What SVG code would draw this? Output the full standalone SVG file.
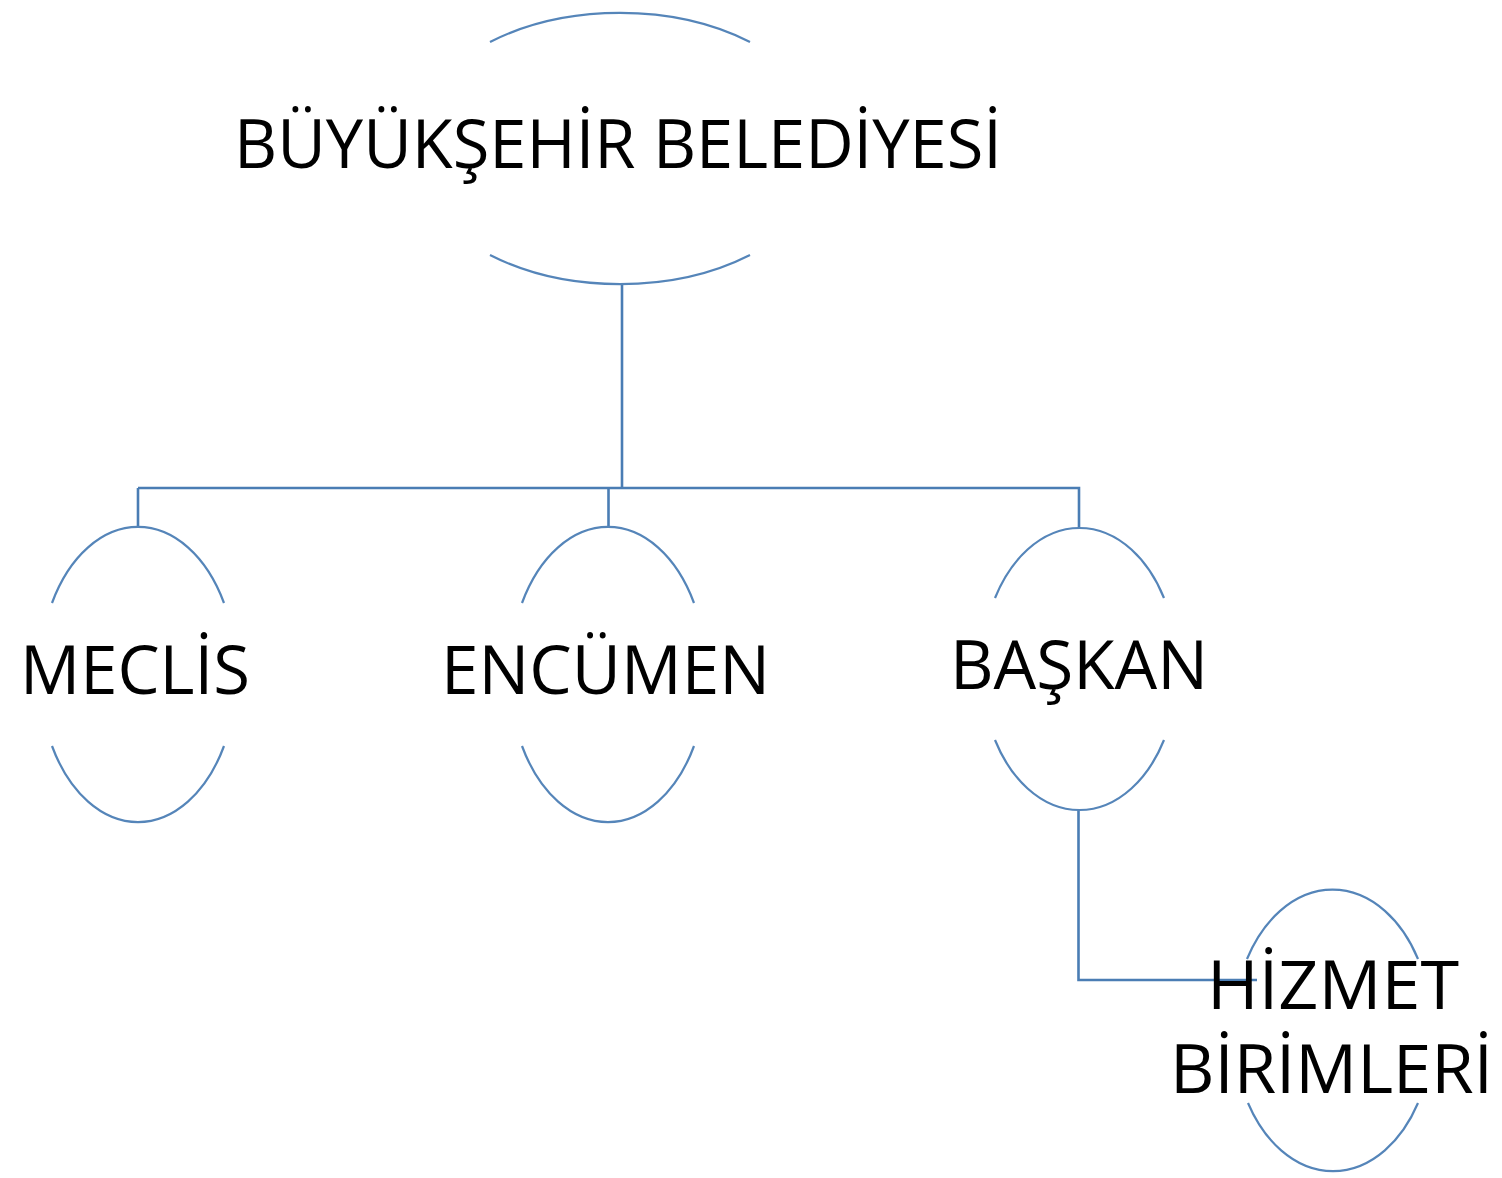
<svg xmlns="http://www.w3.org/2000/svg" width="1502" height="1178" viewBox="0 0 1502 1178">
<style>
.arc{fill:none;stroke:#5585b9;stroke-width:2.2}
.con{fill:none;stroke:#4a7db4;stroke-width:2.6}
.lbl{font-family:"Open Sans","Liberation Sans",sans-serif;font-size:67px;fill:#000}
</style>
<rect width="1502" height="1178" fill="#fff"/>
<g id="connectors">
<path class="con" d="M622,283 V488"/>
<path class="con" d="M138,488 H1079 V528"/>
<path class="con" d="M138,488 V527"/>
<path class="con" d="M608.5,488 V527"/>
<path class="con" d="M1078.5,810 V980 H1257"/>
</g>
<g id="n-buyuksehir">
<path class="arc" d="M490,42 A210,135.5 0 0 1 750,42"/>
<path class="arc" d="M490,255 A210,135.5 0 0 0 750,255"/>
<text class="lbl" x="234" y="168" textLength="768" lengthAdjust="spacingAndGlyphs">BÜYÜKŞEHİR BELEDİYESİ</text>
</g>
<g id="n-meclis">
<path class="arc" d="M52,603 A98.3,147.5 0 0 1 224,603"/>
<path class="arc" d="M52,746 A98.3,147.5 0 0 0 224,746"/>
<text class="lbl" x="20" y="694" textLength="230" lengthAdjust="spacingAndGlyphs">MECLİS</text>
</g>
<g id="n-encumen">
<path class="arc" d="M522,603 A98.3,147.5 0 0 1 694,603"/>
<path class="arc" d="M522,746 A98.3,147.5 0 0 0 694,746"/>
<text class="lbl" x="441" y="694" textLength="329" lengthAdjust="spacingAndGlyphs">ENCÜMEN</text>
</g>
<g id="n-baskan">
<path class="arc" d="M995,598 A97.8,141 0 0 1 1164,598"/>
<path class="arc" d="M995,740 A97.8,141 0 0 0 1164,740"/>
<text class="lbl" x="950" y="689" textLength="258" lengthAdjust="spacingAndGlyphs">BAŞKAN</text>
</g>
<g id="n-hizmet">
<path class="arc" d="M1247,959 A99.4,141.5 0 0 1 1418,959"/>
<path class="arc" d="M1248,1103 A99.4,141.5 0 0 0 1418,1103"/>
<text class="lbl" x="1207" y="1009" textLength="252" lengthAdjust="spacingAndGlyphs">HİZMET</text>
<text class="lbl" x="1170" y="1093" textLength="323" lengthAdjust="spacingAndGlyphs">BİRİMLERİ</text>
</g>
</svg>
